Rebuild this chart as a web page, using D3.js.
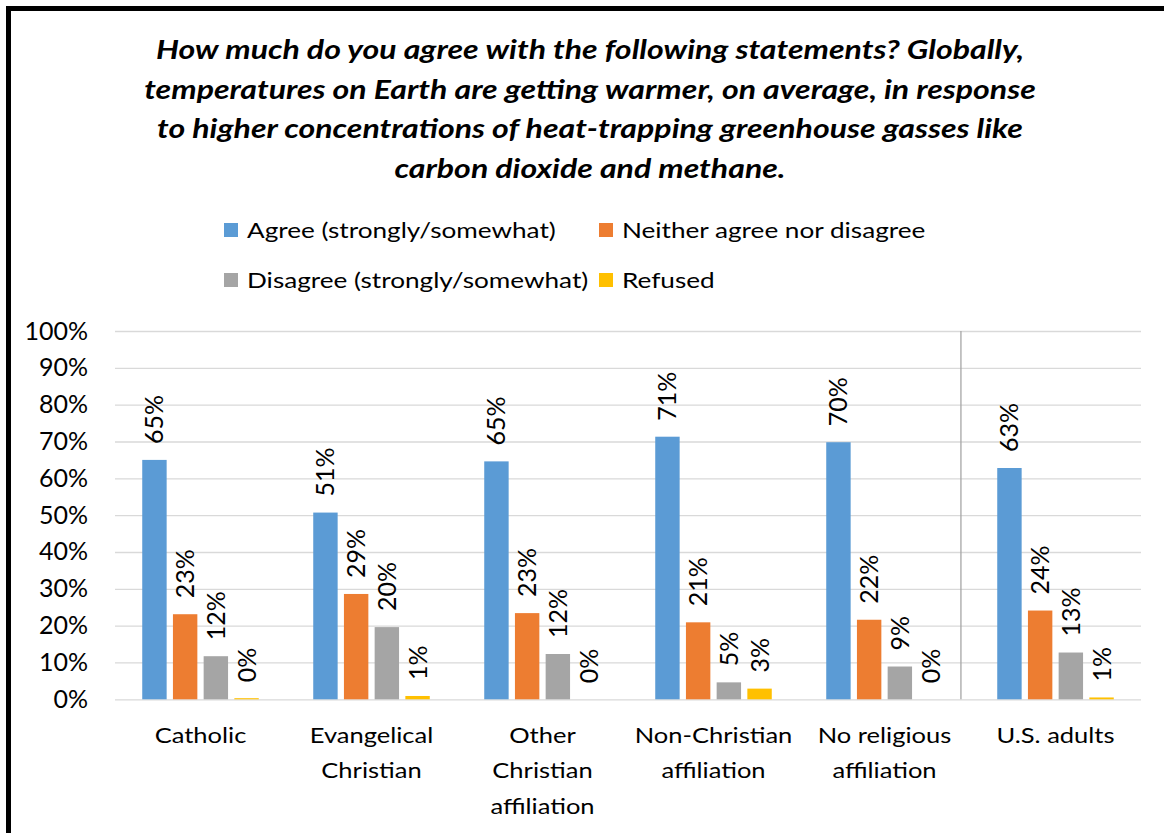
<!DOCTYPE html>
<html>
<head>
<meta charset="utf-8">
<script src="https://cdn.jsdelivr.net/npm/d3@7"></script>
<style>
  html, body { margin: 0; padding: 0; background: #ffffff; }
  svg { display: block; }
  text { font-family: Lato, "Noto Sans", sans-serif; fill: #000; }
</style>
</head>
<body>
<svg id="chart" width="1164" height="833"></svg>
<script>
// Survey categories (line breaks mark wrapped axis labels)
const categories = [
  "Catholic",
  "Evangelical\nChristian",
  "Other\nChristian\naffiliation",
  "Non-Christian\naffiliation",
  "No religious\naffiliation",
  "U.S. adults"
];

const seriesNames = [
  "Agree (strongly/somewhat)",
  "Neither agree nor disagree",
  "Disagree (strongly/somewhat)",
  "Refused"
];
const seriesColors = ["#5b9bd5", "#ed7d31", "#a5a5a5", "#ffc000"];

// Share of respondents, in percent
const agree    = [65.0, 50.7, 64.6, 71.3, 69.8, 62.8];
const neither  = [23.1, 28.6, 23.4, 20.9, 21.6, 24.1];
const disagree = [11.7, 19.6, 12.3,  4.6,  8.9, 12.7];
const refused  = [ 0.3,  0.9,  0.0,  2.9,  0.0,  0.5];

const yTicks = [0, 10, 20, 30, 40, 50, 60, 70, 80, 90, 100];

const titleLines = [
  "How much do you agree with the following statements? Globally,",
  "temperatures on Earth are getting warmer, on average, in response",
  "to higher concentrations of heat-trapping greenhouse gasses like",
  "carbon dioxide and methane."
];

const seriesValues = [agree, neither, disagree, refused];
const rows = categories.map((c, i) => ({
  category: c,
  values: seriesNames.map((s, k) => ({ series: s, key: k, value: seriesValues[k][i] }))
}));

const svg = d3.select("#chart");
const plot = { left: 115, right: 1141, top: 331, bottom: 699.3 };

// Scales
const x0 = d3.scaleBand().domain(categories).range([plot.left, plot.right]).padding(0);
const x1 = d3.scaleBand().domain(seriesNames).range([0, x0.bandwidth()])
  .paddingInner(0.205).paddingOuter(0.887);
const y = d3.scaleLinear().domain([0, 100]).range([plot.bottom, plot.top]);
const color = d3.scaleOrdinal().domain(seriesNames).range(seriesColors);

// Title (wide-set bold italic)
svg.append("g").selectAll("text").data(titleLines).join("text")
  .attr("transform", (d, i) => `translate(590,${59 + i * 39.5}) scale(1.21,1)`)
  .attr("text-anchor", "middle")
  .style("font-size", "26.5px")
  .style("font-weight", "700")
  .style("font-style", "italic")
  .text(d => d);

// Legend (two rows, two columns)
const legendCols = [224, 599];
const legendRows = [223, 273];
const legend = svg.append("g").selectAll("g").data(seriesNames).join("g")
  .attr("transform", (d, i) => `translate(${legendCols[i % 2]},${legendRows[Math.floor(i / 2)]})`);
legend.append("rect").attr("width", 14).attr("height", 14).attr("fill", d => color(d));
legend.append("text")
  .attr("transform", "translate(23,14.5) scale(1.245,1)")
  .style("font-size", "21px").text(d => d);

// Gridlines and y tick labels
const yAxis = svg.append("g")
  .attr("transform", `translate(${plot.left},0)`)
  .call(d3.axisLeft(y).tickValues(yTicks).tickFormat(d => d + "%")
    .tickSize(-(plot.right - plot.left)).tickPadding(27));
yAxis.select(".domain").remove();
yAxis.selectAll(".tick line").attr("stroke", "#d9d9d9").attr("stroke-width", 1.3);
yAxis.selectAll(".tick text")
  .style("font-size", "25px").style("font-family", "Lato, 'Noto Sans', sans-serif")
  .attr("fill", "#000");

// Separator before the national total
const sepX = x0(categories[5]) - x0.step() * 0.053;
svg.append("line")
  .attr("x1", sepX).attr("x2", sepX)
  .attr("y1", y(100)).attr("y2", y(0))
  .attr("stroke", "#a6a6a6").attr("stroke-width", 1.3);

// Bars
const groups = svg.append("g").selectAll("g").data(rows).join("g")
  .attr("transform", d => `translate(${x0(d.category)},0)`);

groups.selectAll("rect").data(d => d.values).join("rect")
  .attr("x", d => x1(d.series))
  .attr("width", x1.bandwidth())
  .attr("y", d => y(d.value))
  .attr("height", d => y(0) - y(d.value))
  .attr("fill", d => color(d.series));

// Rotated value labels above each bar
groups.selectAll("text.val").data(d => d.values).join("text")
  .attr("class", "val")
  .attr("transform", d => `translate(${x1(d.series) + x1.bandwidth() / 2},${y(d.value) - 16}) rotate(-90)`)
  .attr("dy", "0.36em")
  .attr("text-anchor", "start")
  .style("font-size", "25px")
  .text(d => Math.round(d.value) + "%");

// Category labels (wrapped)
const catLabels = svg.append("g").selectAll("text").data(categories).join("text")
  .attr("transform", d => `translate(${x0(d) + x0.bandwidth() / 2},743) scale(1.16,1)`)
  .attr("text-anchor", "middle")
  .style("font-size", "22px");
catLabels.selectAll("tspan").data(d => d.split("\n")).join("tspan")
  .attr("x", 0)
  .attr("dy", (d, i) => i === 0 ? 0 : 35.5)
  .text(d => d);

// Outer frame (runs off the right and bottom edges)
svg.append("rect")
  .attr("x", 8.5).attr("y", 8.5)
  .attr("width", 1200).attr("height", 900)
  .attr("fill", "none").attr("stroke", "#000").attr("stroke-width", 5);
</script>
</body>
</html>
